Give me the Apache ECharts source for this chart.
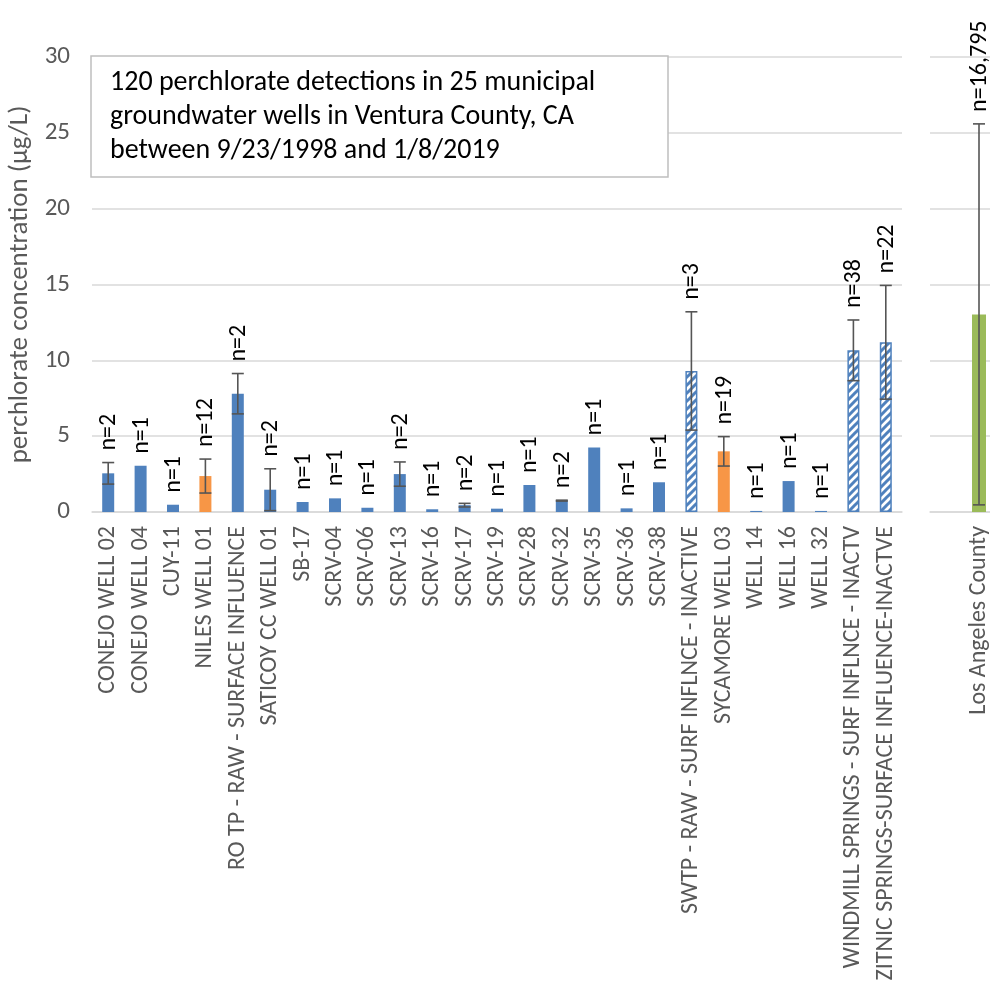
<!DOCTYPE html>
<html>
<head>
<meta charset="utf-8">
<script src="https://cdn.jsdelivr.net/npm/echarts@6/dist/echarts.min.js"></script>
<style>
  html, body { margin: 0; padding: 0; background: #fff; }
  #chart { width: 990px; height: 985px; }
</style>
</head>
<body>
<div id="chart"></div>
<script>
// Ventura County municipal wells: mean perchlorate (µg/L), error (±), detections
const wells = [
  'CONEJO WELL 02', 'CONEJO WELL 04', 'CUY-11', 'NILES WELL 01',
  'RO TP - RAW - SURFACE INFLUENCE', 'SATICOY CC WELL 01', 'SB-17', 'SCRV-04',
  'SCRV-06', 'SCRV-13', 'SCRV-16', 'SCRV-17', 'SCRV-19', 'SCRV-28', 'SCRV-32',
  'SCRV-35', 'SCRV-36', 'SCRV-38', 'SWTP - RAW - SURF INFLNCE - INACTIVE',
  'SYCAMORE WELL 03', 'WELL 14', 'WELL 16', 'WELL 32',
  'WINDMILL SPRINGS - SURF INFLNCE - INACTV',
  'ZITNIC SPRINGS-SURFACE INFLUENCE-INACTVE'
];
const wellMeans = [
  2.55, 3.05, 0.48, 2.37, 7.80, 1.47, 0.66, 0.90, 0.28, 2.50, 0.18, 0.45, 0.22,
  1.78, 0.75, 4.26, 0.24, 1.96, 9.30, 4.00, 0.07, 2.04, 0.07, 10.66, 11.19
];
const wellErrors = [
  0.71, 0, 0, 1.12, 1.33, 1.38, 0, 0, 0, 0.80, 0, 0.12, 0,
  0, 0.03, 0, 0, 0, 3.90, 0.97, 0, 0, 0, 2.00, 3.75
];
const wellCounts = [
  2, 1, 1, 12, 2, 2, 1, 1, 1, 2, 1, 2, 1, 1, 2, 1, 1, 1, 3, 19, 1, 1, 1, 38, 22
];
// wells drawn with the second fill colour, and inactive surface-influenced sources
const orangeWells = ['NILES WELL 01', 'SYCAMORE WELL 03'];
const inactiveWells = [
  'SWTP - RAW - SURF INFLNCE - INACTIVE',
  'WINDMILL SPRINGS - SURF INFLNCE - INACTV',
  'ZITNIC SPRINGS-SURFACE INFLUENCE-INACTVE'
];

// Los Angeles County comparison
const laCategories = ['Los Angeles County'];
const laMeans = [13.03];
const laErrors = [12.56];
const laCounts = [16795];

const yTicks = { min: 0, max: 30, interval: 5 };
const annotation = [
  '120 perchlorate detections in 25 municipal',
  'groundwater wells in Ventura County, CA',
  'between 9/23/1998 and 1/8/2019'
];

const BLUE = '#4F81BD', ORANGE = '#F79646', GREEN = '#9BBB59';
const GRID = '#D9D9D9', AXIS_TXT = '#595959', ERR = '#555555';
const FONT = 'Carlito, Lato, sans-serif';

// diagonal stripe fill for inactive sources
function stripePattern() {
  const c = document.createElement('canvas');
  c.width = 8; c.height = 8;
  const g = c.getContext('2d');
  g.fillStyle = '#ffffff';
  g.fillRect(0, 0, 8, 8);
  g.strokeStyle = BLUE;
  g.lineWidth = 3;
  g.beginPath();
  g.moveTo(-2, 10); g.lineTo(10, -2);
  g.moveTo(-6, 6); g.lineTo(6, -6);
  g.moveTo(2, 14); g.lineTo(14, 2);
  g.stroke();
  return c;
}
const stripes = { image: stripePattern(), repeat: 'repeat' };

function barItems(names, means, colorFor) {
  return means.map((v, i) => {
    const name = names[i];
    if (inactiveWells.includes(name)) {
      return { value: v, itemStyle: { color: stripes, borderColor: BLUE, borderWidth: 1.5 } };
    }
    return { value: v, itemStyle: { color: colorFor(name) } };
  });
}

// error bars with caps plus the rotated "n=" label above each column
function errorRender(capHalf) {
  return function (params, api) {
    const x = api.value(0), m = api.value(1), e = api.value(2), n = api.value(3);
    const children = [];
    const style = { stroke: ERR, lineWidth: 1.6 };
    const hi = api.coord([x, m + e]);
    const lo = api.coord([x, Math.max(m - e, 0)]);
    if (e > 0) {
      children.push({ type: 'line', shape: { x1: hi[0], y1: hi[1], x2: lo[0], y2: lo[1] }, style });
      children.push({ type: 'line', shape: { x1: hi[0] - capHalf, y1: hi[1], x2: hi[0] + capHalf, y2: hi[1] }, style });
      if (m - e > 0) {
        children.push({ type: 'line', shape: { x1: lo[0] - capHalf, y1: lo[1], x2: lo[0] + capHalf, y2: lo[1] }, style });
      }
    }
    children.push({
      type: 'text',
      x: hi[0] + 1,
      y: hi[1] - 12,
      rotation: Math.PI / 2,
      style: {
        text: 'n=' + Number(n).toLocaleString('en-US'),
        fill: '#000',
        fontSize: 24,
        fontFamily: FONT,
        align: 'left',
        verticalAlign: 'middle'
      }
    });
    return { type: 'group', children };
  };
}

const chart = echarts.init(document.getElementById('chart'), null, { renderer: 'canvas' });

const yAxisBase = {
  type: 'value',
  min: yTicks.min, max: yTicks.max, interval: yTicks.interval,
  axisLine: { show: false },
  axisTick: { show: false },
  splitLine: { lineStyle: { color: GRID, width: 1.5 } }
};
const xAxisBase = {
  type: 'category',
  axisTick: { show: false },
  axisLine: { lineStyle: { color: GRID, width: 1.5 } },
  axisLabel: {
    interval: 0, rotate: 90, margin: 14,
    color: AXIS_TXT, fontSize: 24, fontFamily: FONT
  }
};

chart.setOption({
  animation: false,
  backgroundColor: '#fff',
  grid: [
    { left: 92, top: 57, width: 810, height: 455, containLabel: false, outerBoundsMode: 'none' },
    { left: 930, top: 57, width: 98, height: 455, containLabel: false, outerBoundsMode: 'none' }
  ],
  xAxis: [
    Object.assign({}, xAxisBase, { gridIndex: 0, data: wells }),
    Object.assign({}, xAxisBase, { gridIndex: 1, data: laCategories })
  ],
  yAxis: [
    Object.assign({}, yAxisBase, {
      gridIndex: 0,
      name: 'perchlorate concentration (µg/L)',
      nameLocation: 'middle',
      nameGap: 57,
      nameTextStyle: { color: AXIS_TXT, fontSize: 27, fontFamily: FONT },
      axisLabel: { color: AXIS_TXT, fontSize: 25, fontFamily: FONT, margin: 22 }
    }),
    Object.assign({}, yAxisBase, { gridIndex: 1, axisLabel: { show: false } })
  ],
  series: [
    {
      type: 'bar', xAxisIndex: 0, yAxisIndex: 0, barWidth: 12,
      data: barItems(wells, wellMeans, n => orangeWells.includes(n) ? ORANGE : BLUE)
    },
    {
      type: 'custom', xAxisIndex: 0, yAxisIndex: 0, clip: false, z: 5,
      renderItem: errorRender(6),
      data: wells.map((w, i) => [i, wellMeans[i], wellErrors[i], wellCounts[i]])
    },
    {
      type: 'bar', xAxisIndex: 1, yAxisIndex: 1, barWidth: 14,
      data: laMeans.map(v => ({ value: v, itemStyle: { color: GREEN } }))
    },
    {
      type: 'custom', xAxisIndex: 1, yAxisIndex: 1, clip: false, z: 5,
      renderItem: errorRender(6),
      data: laCategories.map((c, i) => [i, laMeans[i], laErrors[i], laCounts[i]])
    }
  ],
  graphic: [
    {
      type: 'rect', z: 50,
      shape: { x: 91, y: 56, width: 577, height: 121 },
      style: { fill: '#fff', stroke: '#BFBFBF', lineWidth: 1.5 }
    },
    {
      type: 'text', z: 51, x: 110, y: 66,
      style: {
        text: annotation.join('\n'),
        fill: '#000', fontSize: 28, fontFamily: FONT,
        lineHeight: 34, align: 'left', verticalAlign: 'top'
      }
    }
  ]
});
</script>
</body>
</html>
